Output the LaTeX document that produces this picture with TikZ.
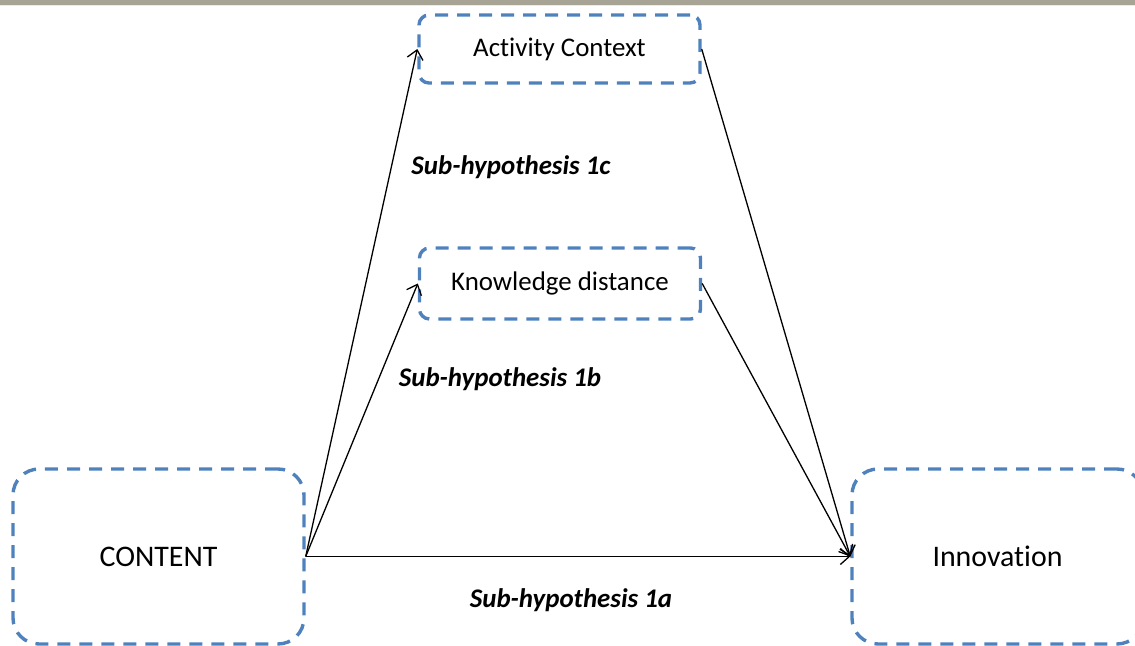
\documentclass[tikz,border=0pt]{standalone}
\usepackage{fontspec}
\setmainfont{Carlito}[Ligatures=NoCommon]
\usetikzlibrary{arrows.meta}
\definecolor{boxblue}{RGB}{79,129,189}
\definecolor{rulegray}{RGB}{168,164,149}
\definecolor{rulelight}{RGB}{236,234,226}
\begin{document}
\begin{tikzpicture}[x=1bp,y=-1bp,
  dashbox/.style={draw=boxblue, line width=3.4bp, dash pattern=on 13bp off 9bp,
    inner sep=0pt, align=center, text=black},
  smallbox/.style={dashbox, rounded corners=10bp, minimum width=281bp,
    font=\fontsize{27}{32}\selectfont},
  bigbox/.style={dashbox, rounded corners=26bp, minimum width=291bp, minimum height=175bp,
    font=\fontsize{30}{36}\selectfont},
  link/.style={draw=black, line width=1.3bp, -{Straight Barb[length=9bp,width=16bp]}},
  hyp/.style={font=\fontsize{27}{32}\selectfont\bfseries\itshape, inner sep=0pt}]
\useasboundingbox (0,0) rectangle (1135,646);
\clip (0,0) rectangle (1135,646);
% header rule
\fill[rulegray] (0,0) rectangle (1135,5);
\fill[rulelight] (0,5) rectangle (1135,6.5);
% boxes
\node[smallbox, minimum height=68bp] (act) at (559.5,49) {Activity Context};
\node[smallbox, minimum height=71bp] (know) at (560,283.5) {Knowledge distance};
\node[bigbox] (content) at (158.5,556.5) {CONTENT};
\node[bigbox] (innov) at (997.5,556.5) {Innovation};
% connectors
\draw[link] (content.east) -- (act.west);
\draw[link] (content.east) -- (know.west);
\draw[link] (content.east) -- (innov.west);
\draw[link] (act.east) -- (innov.west);
\draw[link] (know.east) -- (innov.west);
% hypothesis labels
\node[hyp] (h1c) at (511,167) {Sub-hypothesis 1c};
\node[hyp] (h1b) at (500,379) {Sub-hypothesis 1b};
\node[hyp] (h1a) at (571,600) {Sub-hypothesis 1a};
\end{tikzpicture}
\end{document}
